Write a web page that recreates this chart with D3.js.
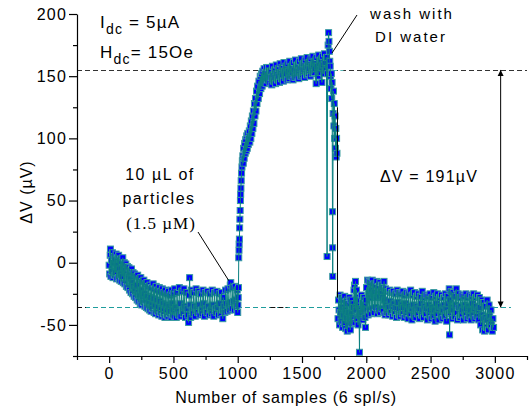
<!DOCTYPE html>
<html>
<head>
<meta charset="utf-8">
<script src="https://cdn.jsdelivr.net/npm/d3@7"></script>
<style>
  html, body { margin: 0; padding: 0; background: #fff; }
  svg { display: block; }
</style>
</head>
<body>
<svg id="chart" width="532" height="410" font-family="'Liberation Sans', Arial, sans-serif"></svg>
<script>
// ---------------- data ----------------
const xTicks = [0, 500, 1000, 1500, 2000, 2500, 3000];
const yTicks = [-50, 0, 50, 100, 150, 200];
const xMinorTicks = [-250, 250, 750, 1250, 1750, 2250, 2750, 3250];
const yMinorTicks = [-75, -25, 25, 75, 125, 175];

// baseline before particle injection  [sample, ΔV µV]
const baseline = [[0,-2],[4,-9],[8,6],[10,11],[14,-11],[18,2],[22,-7],[26,8],[30,-12],[34,0],[38,5],[42,-10],[46,3],[50,-8],[54,7],[58,-13],[62,-2],[66,4],[70,-12],[74,6],[78,-5],[82,-14],[86,3],[90,-9],[94,-15],[98,1],[102,-11],[106,4],[110,-16],[114,-4],[118,0],[122,-17],[126,-6],[130,-1],[134,-19],[138,-9],[142,-3],[146,-20],[150,-11],[154,-4],[158,-22],[162,-8],[166,-13],[170,-24],[174,-5],[178,-16],[182,-25],[186,-8],[190,-19],[194,-27],[198,-9],[202,-21],[206,-28],[210,-11],[214,-18],[218,-30],[222,-10],[226,-24],[230,-31],[234,-13],[238,-26],[242,-33],[246,-12],[250,-22],[254,-34],[258,-15],[262,-28],[266,-32],[270,-14],[274,-25],[278,-35],[282,-17],[286,-30],[290,-36],[294,-16],[298,-27],[302,-37],[306,-19],[310,-31],[314,-38],[318,-18],[322,-28],[326,-39],[330,-20],[334,-33],[338,-37],[342,-17],[346,-29],[350,-40],[354,-21],[358,-34],[362,-41],[366,-19],[370,-30],[374,-39],[378,-22],[382,-35],[386,-42],[390,-20],[394,-31],[398,-40],[402,-23],[406,-36],[410,-43],[414,-21],[418,-33],[422,-41],[426,-24],[430,-37],[434,-44],[438,-22],[442,-34],[446,-42],[450,-25],[454,-38],[458,-43],[462,-23],[466,-35],[470,-41],[474,-26],[478,-39],[482,-44],[486,-22],[490,-33],[494,-42],[498,-25],[502,-38],[506,-43],[510,-21],[516,-36],[522,-44],[528,-24],[534,-39],[540,-42],[546,-20],[552,-33],[558,-43],[564,-23],[570,-38],[576,-41],[582,-21],[588,-35],[594,-44],[600,-24],[606,-37],[612,-42],[618,-48],[622,-26],[626,-12],[630,-34],[634,-44],[640,-22],[646,-38],[652,-41],[658,-24],[664,-35],[670,-43],[676,-21],[682,-37],[688,-40],[694,-23],[700,-34],[706,-42],[712,-25],[718,-38],[724,-41],[730,-22],[736,-33],[742,-43],[748,-24],[754,-37],[760,-40],[766,-23],[772,-35],[778,-42],[784,-25],[790,-38],[796,-41],[802,-22],[808,-34],[814,-43],[820,-24],[826,-37],[832,-40],[838,-23],[844,-36],[850,-42],[856,-25],[862,-33],[868,-41],[874,-24],[880,-38],[884,-45],[888,-28],[894,-35],[900,-40],[906,-22],[912,-33],[918,-39],[924,-21],[930,-34],[936,-38],[942,-18],[946,-16],[950,-32],[956,-37],[962,-20],[968,-31],[974,-38],[980,-19],[986,-30],[992,-37],[996,-22]];

// rise after 10 µL particles
const rise = [[1000,-40],[1002,-34],[1004,-28],[1006,-20],[1008,4],[1010,10],[1011,15],[1013,19],[1015,28],[1017,35],[1019,42],[1021,50],[1023,55],[1025,60],[1027,66],[1030,72],[1033,77],[1036,82],[1040,86],[1043,80],[1046,92],[1050,84],[1054,96],[1058,88],[1062,99],[1066,90],[1070,102],[1074,92],[1078,104],[1082,95],[1086,100],[1090,106],[1094,97],[1098,110],[1102,100],[1106,114],[1110,104],[1114,118],[1118,108],[1122,122],[1126,112],[1130,128],[1134,118],[1138,132],[1142,122],[1146,138],[1150,128],[1155,142],[1160,132],[1165,146],[1170,136],[1175,150],[1180,140],[1185,152],[1190,142],[1195,154],[1200,145],[1205,156],[1210,146],[1215,153],[1220,144],[1225,157],[1230,147],[1235,152]];

// saturated plateau
const plateau = [[1240,157],[1245,150],[1250,145],[1255,154],[1260,149],[1265,143],[1270,158],[1275,151],[1280,146],[1285,155],[1290,149],[1295,144],[1300,159],[1305,152],[1310,147],[1315,156],[1320,150],[1325,145],[1330,160],[1335,153],[1340,148],[1345,157],[1350,151],[1355,146],[1360,161],[1365,154],[1370,149],[1375,158],[1380,152],[1385,147],[1390,160],[1395,154],[1400,148],[1405,162],[1410,155],[1415,150],[1420,158],[1425,153],[1430,147],[1435,161],[1440,155],[1445,149],[1450,163],[1455,156],[1460,150],[1465,159],[1470,154],[1475,148],[1480,162],[1485,156],[1490,150],[1495,164],[1500,157],[1505,151],[1510,160],[1515,155],[1520,149],[1525,163],[1530,157],[1535,151],[1540,165],[1545,158],[1550,152],[1555,161],[1560,156],[1565,150],[1570,164],[1575,158],[1580,152],[1585,166],[1590,159],[1595,153],[1600,162],[1605,156],[1610,144],[1615,165],[1620,158],[1625,150],[1630,167],[1635,160],[1640,153],[1645,163],[1650,157],[1655,145],[1660,166],[1665,159],[1670,152],[1675,168],[1680,161],[1685,155],[1690,165]];

// wash with DI water
const wash = [[1695,5],[1699,152],[1703,175],[1707,185],[1710,178],[1713,170],[1716,162],[1719,158],[1722,150],[1725,140],[1728,152],[1731,132],[1734,145],[1737,41],[1738,12],[1739,-11],[1742,120],[1745,138],[1748,110],[1751,128],[1754,100],[1757,118],[1760,92],[1763,108],[1766,85],[1769,100],[1772,88]];

// after washing
const recovery = [[1780,-45],[1784,-30],[1788,-38],[1792,-50],[1796,-26],[1800,-40],[1804,-47],[1808,-28],[1812,-36],[1816,-52],[1820,-30],[1824,-42],[1828,-49],[1832,-27],[1836,-38],[1840,-53],[1844,-31],[1848,-44],[1852,-55],[1856,-33],[1860,-40],[1864,-50],[1868,-28],[1872,-45],[1876,-54],[1880,-30],[1884,-41],[1888,-49],[1892,-33],[1896,-44],[1900,-36],[1904,-22],[1908,-18],[1912,-48],[1916,-15],[1920,-38],[1924,-22],[1928,-45],[1932,-28],[1936,-50],[1940,-34],[1944,-42],[1947,-72],[1950,-38],[1954,-30],[1958,-44],[1962,-26],[1966,-40],[1970,-32],[1974,-46],[1978,-28],[1982,-38],[1986,-34],[1990,-44],[1994,-52],[1998,-30],[2002,-20],[2006,-38],[2010,-14],[2014,-42],[2018,-25],[2022,-15],[2026,-38],[2030,-28],[2034,-16],[2038,-41],[2042,-22],[2046,-14],[2050,-37],[2054,-26],[2058,-17],[2062,-40],[2066,-24],[2070,-18],[2074,-36],[2078,-28],[2082,-15],[2086,-41],[2090,-25],[2094,-19],[2098,-38],[2102,-27],[2106,-16],[2110,-40],[2114,-23],[2118,-18],[2122,-37],[2126,-28],[2130,-20],[2134,-39],[2138,-15],[2142,-30],[2146,-42],[2150,-21],[2155,-34],[2160,-40],[2165,-23],[2170,-36],[2175,-42],[2180,-22],[2185,-31],[2190,-40],[2195,-24],[2200,-35],[2205,-43],[2210,-23],[2215,-33],[2220,-41],[2225,-25],[2230,-36],[2235,-44],[2240,-22],[2245,-32],[2250,-42],[2255,-24],[2260,-37],[2265,-43],[2270,-25],[2275,-34],[2280,-41],[2285,-23],[2290,-36],[2295,-44],[2300,-26],[2305,-33],[2310,-42],[2315,-24],[2320,-38],[2325,-45],[2330,-25],[2335,-35],[2340,-41],[2345,-22],[2350,-37],[2355,-46],[2360,-26],[2365,-34],[2370,-42],[2375,-24],[2380,-38],[2385,-44],[2390,-27],[2395,-35],[2400,-41],[2405,-25],[2410,-37],[2415,-45],[2420,-27],[2425,-33],[2430,-42],[2435,-23],[2440,-38],[2445,-44],[2450,-28],[2455,-35],[2460,-41],[2465,-26],[2470,-37],[2475,-46],[2480,-27],[2485,-34],[2490,-42],[2495,-25],[2500,-38],[2505,-45],[2510,-28],[2515,-36],[2520,-43],[2525,-24],[2530,-38],[2535,-47],[2540,-27],[2545,-33],[2550,-41],[2555,-25],[2560,-37],[2565,-46],[2570,-28],[2575,-35],[2580,-42],[2585,-26],[2590,-38],[2595,-45],[2600,-28],[2605,-34],[2610,-43],[2615,-25],[2620,-37],[2625,-47],[2630,-27],[2635,-33],[2640,-41],[2645,-21],[2648,-58],[2652,-30],[2656,-40],[2660,-23],[2665,-36],[2670,-45],[2675,-24],[2680,-38],[2685,-43],[2690,-27],[2695,-34],[2700,-21],[2705,-40],[2710,-46],[2715,-25],[2720,-36],[2725,-44],[2730,-28],[2735,-35],[2740,-42],[2745,-26],[2750,-38],[2755,-46],[2760,-27],[2765,-34],[2770,-42],[2775,-25],[2780,-37],[2785,-45],[2790,-28],[2795,-35],[2800,-43],[2805,-26],[2810,-38],[2815,-46],[2820,-27],[2825,-33],[2830,-42],[2835,-25],[2840,-37],[2845,-45],[2850,-28],[2855,-35],[2860,-43],[2865,-26],[2870,-38],[2875,-46],[2880,-28],[2885,-36],[2890,-50],[2895,-30],[2900,-42],[2905,-54],[2910,-32],[2915,-45],[2920,-55],[2925,-35],[2930,-44],[2935,-52],[2940,-30],[2945,-46],[2950,-54],[2955,-34],[2960,-43],[2965,-50],[2970,-38],[2975,-47],[2980,-55],[2985,-45],[2990,-52]];

// black drop line drawn between plateau and recovery (sample, from, to)
const dropLine = [[1776, 125, -28]];

// reference levels
const levels = [
  {y: 155, x0: -250, x1: 3250, color: "#333"},
  {y: 155, x0: 1176, x1: 1822, color: "#5ab8b8"},
  {y: -36, x0: -250, x1: 3125, color: "#1f9d9d"},
  {y: -36, x0: -250, x1: -180, color: "#111"},
  {y: -36, x0: 1254, x1: 1386, color: "#111"}
];
const deltaArrow = {x: 3045, top: 155, bottom: -36};

// ---------------- chart ----------------
const svg = d3.select("#chart");
const x = d3.scaleLinear().domain([-250, 3250]).range([77, 527]);
const y = d3.scaleLinear().domain([-75, 200]).range([356, 14]);

const data = [...baseline, ...rise, ...plateau, ...wash, ...recovery];
const connected = [...baseline, ...rise, ...plateau, ...wash];

// reference dashed levels
svg.append("g").selectAll("line").data(levels).join("line")
  .attr("x1", d => x(d.x0)).attr("x2", d => x(d.x1))
  .attr("y1", d => Math.round(y(d.y)) + 0.5).attr("y2", d => Math.round(y(d.y)) + 0.5)
  .attr("stroke", d => d.color).attr("stroke-width", 1)
  .attr("stroke-dasharray", "5,3");

// markers
svg.append("g").selectAll("rect").data(data).join("rect")
  .attr("x", d => x(d[0]) - 3).attr("y", d => y(d[1]) - 3)
  .attr("width", 6).attr("height", 6)
  .attr("fill", "#0000ff").attr("stroke", "#3a9e9e").attr("stroke-width", 1);

// connecting line (drawn over markers, as in the original)
const line = d3.line().x(d => x(d[0])).y(d => y(d[1]));
svg.append("path").datum(connected)
  .attr("d", line).attr("fill", "none")
  .attr("stroke", "#0a8080").attr("stroke-width", 1);
svg.append("path").datum(recovery)
  .attr("d", line).attr("fill", "none")
  .attr("stroke", "#0a8080").attr("stroke-width", 1);

// black drop line
svg.append("g").selectAll("line").data(dropLine).join("line")
  .attr("x1", d => x(d[0])).attr("x2", d => x(d[0]))
  .attr("y1", d => y(d[1])).attr("y2", d => y(d[2]))
  .attr("stroke", "#000").attr("stroke-width", 1);

// axes
const fmt = d => String(d);
const xAxis = svg.append("g").attr("transform", "translate(0,356)")
  .call(d3.axisBottom(x).tickValues(xTicks).tickFormat(fmt).tickSize(7).tickSizeOuter(0).tickPadding(4));
svg.append("g").attr("transform", "translate(0,356)")
  .call(d3.axisBottom(x).tickValues(xMinorTicks).tickFormat("").tickSize(4).tickSizeOuter(0))
  .select(".domain").remove();
const yAxis = svg.append("g").attr("transform", "translate(77,0)")
  .call(d3.axisLeft(y).tickValues(yTicks).tickFormat(fmt).tickSize(8).tickSizeOuter(0).tickPadding(2));
svg.append("g").attr("transform", "translate(77,0)")
  .call(d3.axisLeft(y).tickValues(yMinorTicks).tickFormat("").tickSize(4).tickSizeOuter(0))
  .select(".domain").remove();

svg.selectAll(".tick line, .domain").attr("stroke", "#000").attr("stroke-width", 1.2);
svg.selectAll(".tick text").attr("font-size", 16).attr("letter-spacing", 1.2)
  .attr("font-family", "'Liberation Sans', Arial, sans-serif").attr("fill", "#000");
xAxis.selectAll(".tick text").attr("dy", "0.75em");

// axis titles
svg.append("text").attr("x", 286).attr("y", 403).attr("text-anchor", "middle")
  .attr("font-size", 16).attr("letter-spacing", 0.8).text("Number of samples (6 spl/s)");
svg.append("text").attr("transform", "translate(32,192) rotate(-90)")
  .attr("text-anchor", "middle").attr("font-size", 16).attr("letter-spacing", 1)
  .text("ΔV  (µV)");

// top-left conditions
const cond = svg.append("g").attr("font-size", 17).attr("letter-spacing", 1.2);
const t1 = cond.append("text").attr("x", 100).attr("y", 28);
t1.append("tspan").text("I");
t1.append("tspan").attr("font-size", 14).attr("dy", 6).text("dc");
t1.append("tspan").attr("dy", -6).text(" = 5µA");
const t2 = cond.append("text").attr("x", 100).attr("y", 58);
t2.append("tspan").text("H");
t2.append("tspan").attr("font-size", 14).attr("dy", 6).text("dc");
t2.append("tspan").attr("dy", -6).text("= 15Oe");

// wash annotation
svg.append("text").attr("x", 412).attr("y", 19).attr("text-anchor", "middle")
  .attr("font-size", 15).attr("letter-spacing", 2).text("wash with");
svg.append("text").attr("x", 411).attr("y", 42).attr("text-anchor", "middle")
  .attr("font-size", 15).attr("letter-spacing", 2).text("DI water");
svg.append("line").attr("x1", 357).attr("y1", 15).attr("x2", 332).attr("y2", 53)
  .attr("stroke", "#000").attr("stroke-width", 1);

// particles annotation
svg.append("text").attr("x", 160).attr("y", 180).attr("text-anchor", "middle")
  .attr("font-size", 16).attr("letter-spacing", 1.5).text("10 µL of");
svg.append("text").attr("x", 159).attr("y", 204).attr("text-anchor", "middle")
  .attr("font-size", 16).attr("letter-spacing", 1.5).text("particles");
svg.append("text").attr("x", 161).attr("y", 229).attr("text-anchor", "middle")
  .attr("font-size", 17).attr("letter-spacing", 1)
  .attr("font-family", "'Liberation Serif', 'Times New Roman', serif").text("(1.5 µM)");
svg.append("line").attr("x1", 198).attr("y1", 232).attr("x2", x(946) - 2).attr("y2", y(-16) - 2)
  .attr("stroke", "#000").attr("stroke-width", 1);

// ΔV arrow
const defs = svg.append("defs");
defs.append("marker").attr("id", "ah").attr("viewBox", "0 0 10 10")
  .attr("refX", 10).attr("refY", 5).attr("markerWidth", 6).attr("markerHeight", 7)
  .attr("orient", "auto-start-reverse").attr("markerUnits", "userSpaceOnUse")
  .append("path").attr("d", "M0,0 L10,5 L0,10 z").attr("fill", "#000");
svg.append("line")
  .attr("x1", x(deltaArrow.x)).attr("x2", x(deltaArrow.x))
  .attr("y1", y(deltaArrow.top)).attr("y2", y(deltaArrow.bottom))
  .attr("stroke", "#000").attr("stroke-width", 1)
  .attr("marker-start", "url(#ah)").attr("marker-end", "url(#ah)");
svg.append("text").attr("x", 429).attr("y", 182).attr("text-anchor", "middle")
  .attr("font-size", 16).attr("letter-spacing", 1.2).text("ΔV = 191µV");
</script>
</body>
</html>
